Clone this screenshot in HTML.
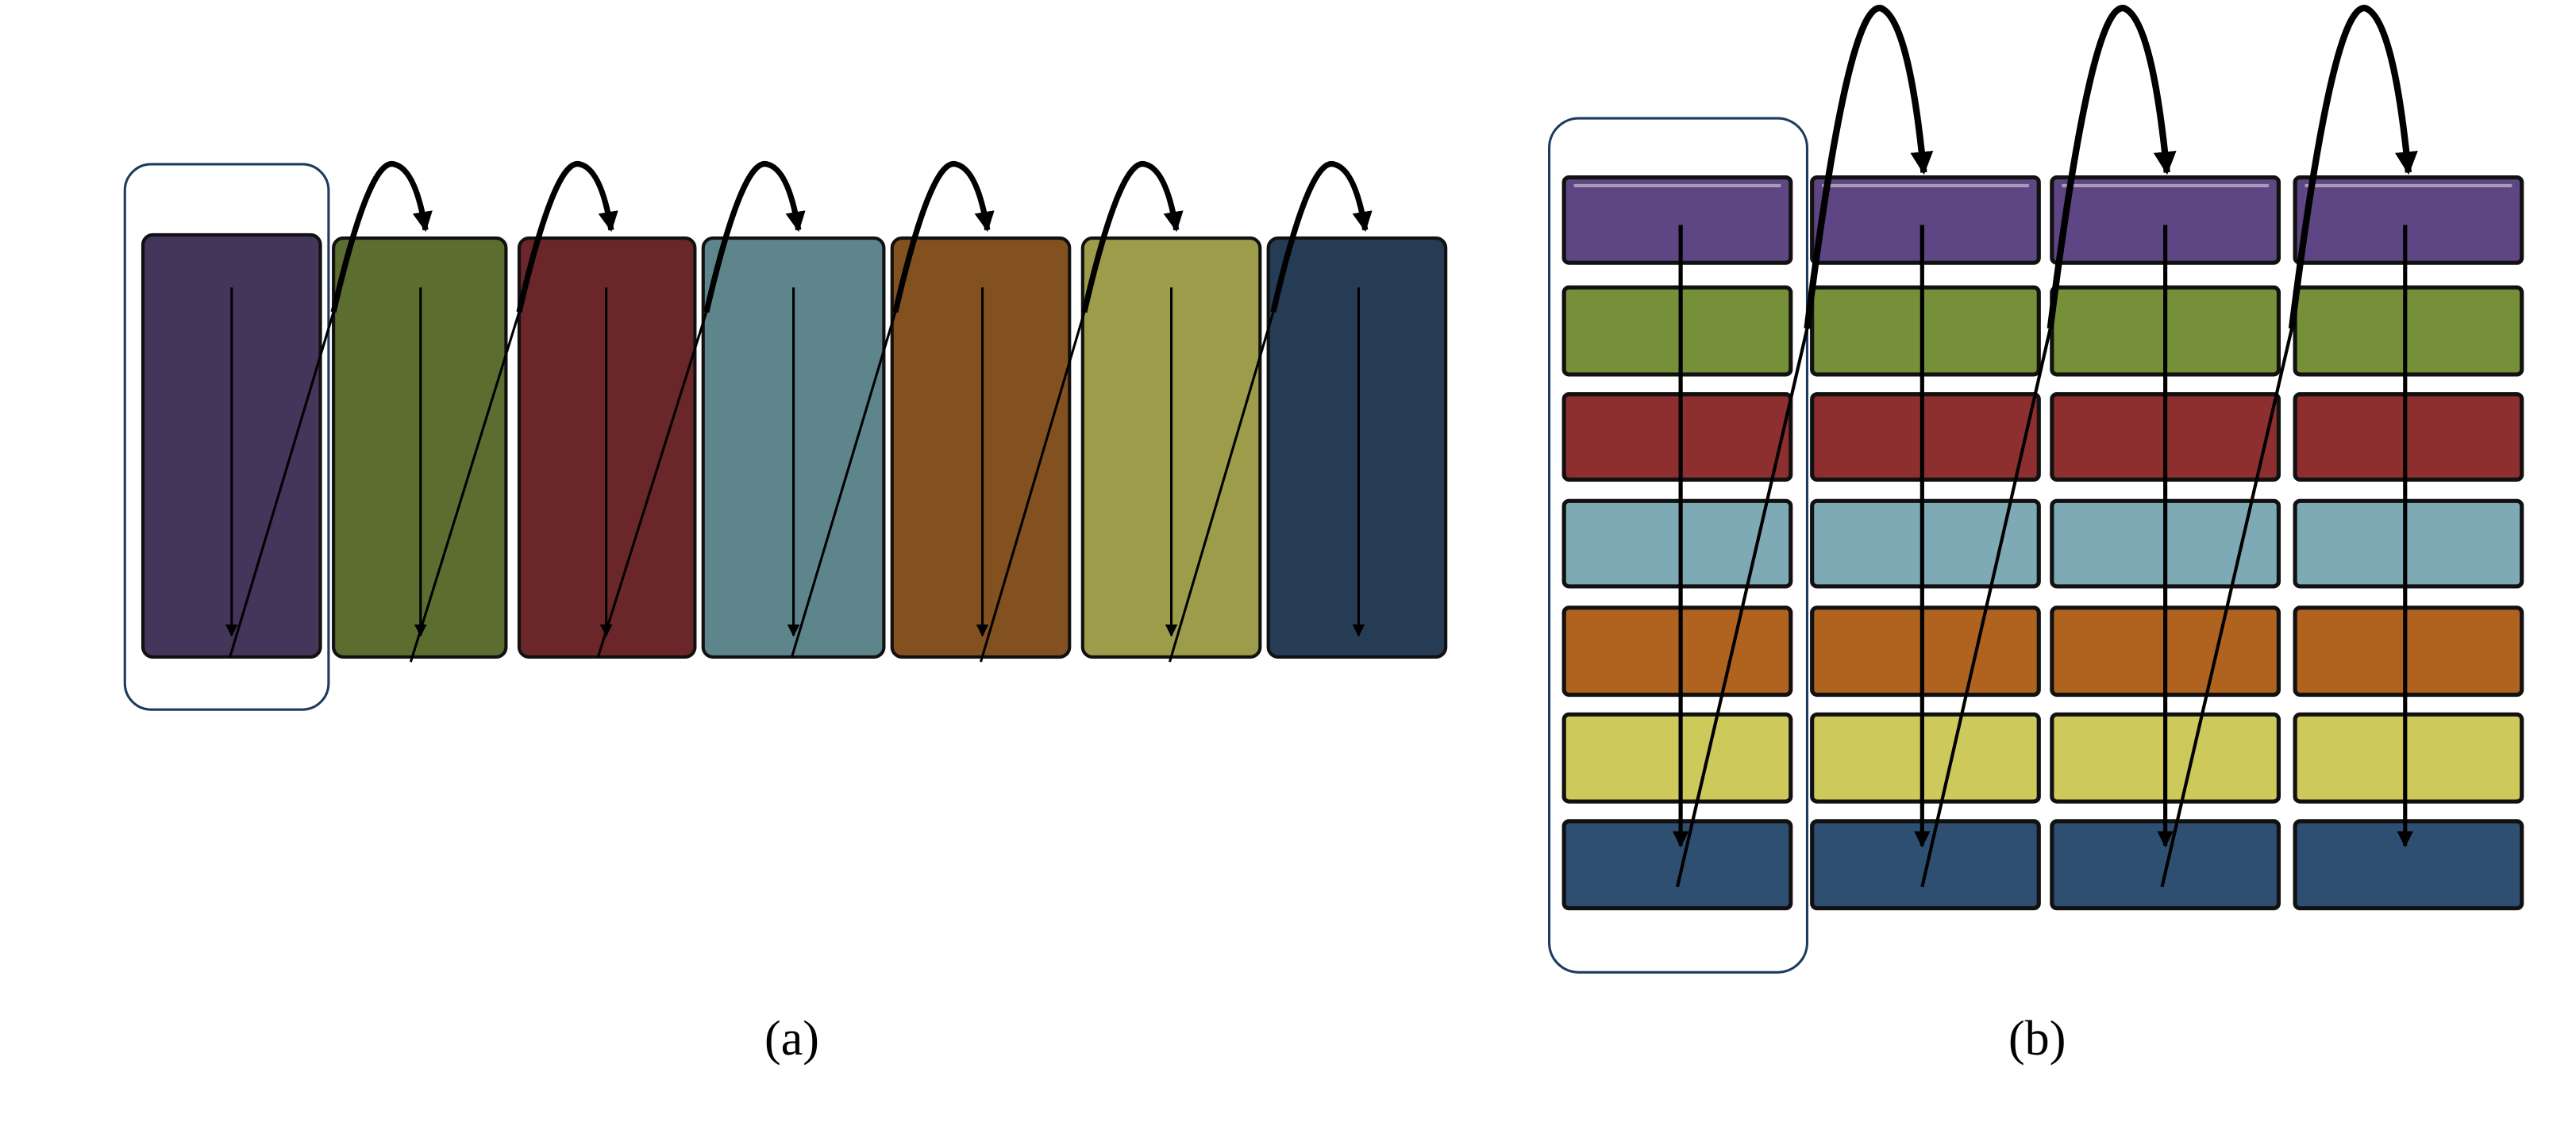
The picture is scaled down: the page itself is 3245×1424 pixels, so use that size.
<!DOCTYPE html>
<html><head><meta charset="utf-8"><style>html,body{margin:0;padding:0;background:#fff}svg{display:block}</style></head>
<body>
<svg width="3245" height="1424" viewBox="0 0 1568 688" preserveAspectRatio="none" xmlns="http://www.w3.org/2000/svg">
<defs>
<marker id="ah" viewBox="0 0 10 10" refX="9" refY="5" markerWidth="3.5" markerHeight="3.5" orient="auto"><path d="M0,0 L10,5 L0,10 z" fill="#000"/></marker>
<marker id="ahv" viewBox="0 0 10 10" refX="9" refY="5" markerWidth="4" markerHeight="4" orient="auto"><path d="M0,0 L10,5 L0,10 z" fill="#000"/></marker>
<marker id="ah2" viewBox="0 0 10 10" refX="9" refY="5" markerWidth="5" markerHeight="5" orient="auto"><path d="M0,0 L10,5 L0,10 z" fill="#000"/></marker>
</defs>
<g stroke="#111" stroke-width="2">
<rect x="87" y="143" width="108" height="257" rx="6" fill="#44355a"/>
<rect x="203" y="145" width="105" height="255" rx="6" fill="#5b6e30"/>
<rect x="316" y="145" width="107" height="255" rx="6" fill="#6a2628"/>
<rect x="428" y="145" width="110" height="255" rx="6" fill="#5f858c"/>
<rect x="543" y="145" width="108" height="255" rx="6" fill="#83511f"/>
<rect x="659" y="145" width="108" height="255" rx="6" fill="#9d9c4a"/>
<rect x="772" y="145" width="108" height="255" rx="6" fill="#263c55"/>
</g>
<rect x="76" y="100" width="124" height="332" rx="16" fill="none" stroke="#1f3a60" stroke-width="1.5"/>
<g stroke="#000" stroke-width="1.5" fill="none">
<line x1="141" y1="175" x2="141" y2="387" marker-end="url(#ah2)"/>
<line x1="256" y1="175" x2="256" y2="387" marker-end="url(#ah2)"/>
<line x1="369" y1="175" x2="369" y2="387" marker-end="url(#ah2)"/>
<line x1="483" y1="175" x2="483" y2="387" marker-end="url(#ah2)"/>
<line x1="598" y1="175" x2="598" y2="387" marker-end="url(#ah2)"/>
<line x1="713" y1="175" x2="713" y2="387" marker-end="url(#ah2)"/>
<line x1="827" y1="175" x2="827" y2="387" marker-end="url(#ah2)"/>
</g>
<g stroke="#000" fill="none">
<path d="M140,400 L203,190" stroke-width="1.5"/><path d="M203,190 Q225,95 240,100 Q253,103 259,140" stroke-width="3.5" marker-end="url(#ah)"/>
<path d="M250,403 L316,190" stroke-width="1.5"/><path d="M316,190 Q338,95 353,100 Q366,103 372,140" stroke-width="3.5" marker-end="url(#ah)"/>
<path d="M364,400 L430,190" stroke-width="1.5"/><path d="M430,190 Q452,95 467,100 Q480,103 486,140" stroke-width="3.5" marker-end="url(#ah)"/>
<path d="M482,400 L545,190" stroke-width="1.5"/><path d="M545,190 Q567,95 582,100 Q595,103 601,140" stroke-width="3.5" marker-end="url(#ah)"/>
<path d="M597,403 L660,190" stroke-width="1.5"/><path d="M660,190 Q682,95 697,100 Q710,103 716,140" stroke-width="3.5" marker-end="url(#ah)"/>
<path d="M712,403 L775,190" stroke-width="1.5"/><path d="M775,190 Q797,95 812,100 Q825,103 831,140" stroke-width="3.5" marker-end="url(#ah)"/>
</g>
<text x="482" y="642" font-family="Liberation Serif, serif" font-size="30" text-anchor="middle">(a)</text>

<g stroke="#111" stroke-width="2.5">
<g id="col">
<rect x="952" y="108" width="138" height="52" rx="3" fill="#5e4584"/>
<rect x="952" y="175" width="138" height="53" rx="3" fill="#76903a"/>
<rect x="952" y="240" width="138" height="52" rx="3" fill="#8e2f2f"/>
<rect x="952" y="305" width="138" height="52" rx="3" fill="#7eaab5"/>
<rect x="952" y="370" width="138" height="53" rx="3" fill="#b0621f"/>
<rect x="952" y="435" width="138" height="53" rx="3" fill="#cdc95a"/>
<rect x="952" y="500" width="138" height="53" rx="3" fill="#2f4f72"/>
</g>
<use href="#col" x="151"/><use href="#col" x="297"/><use href="#col" x="445"/>
</g>
<g stroke="#d8d8d8" stroke-width="2" opacity="0.6">
<line x1="958" y1="113" x2="1084" y2="113"/><line x1="1109" y1="113" x2="1235" y2="113"/><line x1="1255" y1="113" x2="1381" y2="113"/><line x1="1403" y1="113" x2="1529" y2="113"/>
</g>
<rect x="943" y="72" width="157" height="520" rx="18" fill="none" stroke="#1f3a60" stroke-width="1.5"/>
<g stroke="#000" stroke-width="2.5" fill="none">
<line x1="1023" y1="137" x2="1023" y2="515" marker-end="url(#ahv)"/>
<line x1="1170" y1="137" x2="1170" y2="515" marker-end="url(#ahv)"/>
<line x1="1318" y1="137" x2="1318" y2="515" marker-end="url(#ahv)"/>
<line x1="1464" y1="137" x2="1464" y2="515" marker-end="url(#ahv)"/>
</g>
<g stroke="#000" fill="none">
<path d="M1021,540 L1100,200" stroke-width="2"/><path d="M1100,200 Q1125,0 1145,5 Q1162,12 1171,105" stroke-width="4" marker-end="url(#ah)"/>
<path d="M1170,540 L1248,200" stroke-width="2"/><path d="M1248,200 Q1273,0 1293,5 Q1310,12 1319,105" stroke-width="4" marker-end="url(#ah)"/>
<path d="M1316,540 L1395,200" stroke-width="2"/><path d="M1395,200 Q1420,0 1440,5 Q1457,12 1466,105" stroke-width="4" marker-end="url(#ah)"/>
</g>
<text x="1240" y="642" font-family="Liberation Serif, serif" font-size="30" text-anchor="middle">(b)</text>
</svg>
</body></html>
